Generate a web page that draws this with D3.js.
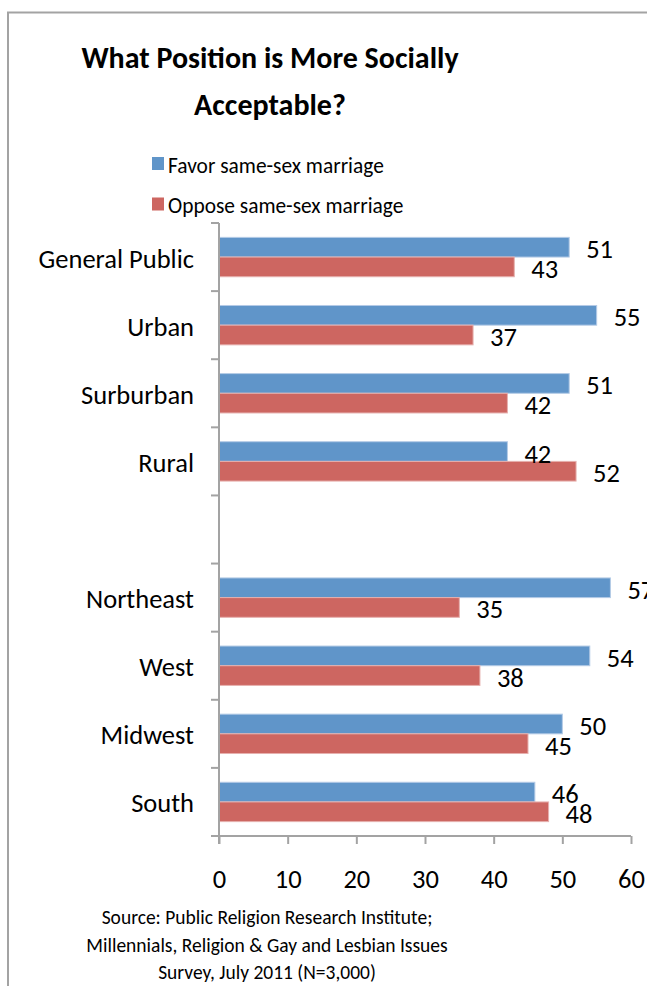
<!DOCTYPE html>
<html>
<head>
<meta charset="utf-8">
<script src="https://cdn.jsdelivr.net/npm/d3@7"></script>
<style>
  html, body { margin: 0; padding: 0; background: #fff; overflow: hidden; }
  svg { display: block; font-family: Carlito, Calibri, Lato, "Open Sans", sans-serif; }
</style>
</head>
<body>
<svg id="chart" width="647" height="986"></svg>
<script>
// Rows top to bottom; an empty name leaves a blank row between the two groups.
const categories = ["General Public", "Urban", "Surburban", "Rural", "", "Northeast", "West", "Midwest", "South"];
const favor  = [51, 55, 51, 42, null, 57, 54, 50, 46];
const oppose = [43, 37, 42, 52, null, 35, 38, 45, 48];
const seriesNames = ["Favor same-sex marriage", "Oppose same-sex marriage"];
const xTicks = [0, 10, 20, 30, 40, 50, 60];
const titleLines = ["What Position is More Socially", "Acceptable?"];
const sourceLines = [
  "Source: Public Religion Research Institute;",
  "Millennials, Religion & Gay and Lesbian Issues",
  "Survey, July 2011 (N=3,000)"
];

const colors = { favor: "#6095c9", oppose: "#cd6661" };
const outlines = { favor: "#b4cbe6", oppose: "#e6b0ae" };
const axisColor = "#a3a3a3";
const labelSize = 26.5;

const svg = d3.select("#chart");

// Chart frame (runs off the right and bottom edges)
svg.append("path")
  .attr("d", "M8,986V12.5H647")
  .attr("fill", "none").attr("stroke", axisColor).attr("stroke-width", 2);

// Title
svg.append("g").selectAll("text").data(titleLines).join("text")
  .attr("x", 270).attr("y", (d, i) => 68 + i * 47)
  .attr("text-anchor", "middle")
  .attr("font-size", 30).attr("font-weight", "bold").attr("fill", "#000")
  .text(d => d);

// Legend
const legend = svg.append("g");
const keys = ["favor", "oppose"];
keys.forEach((k, i) => {
  legend.append("rect")
    .attr("x", 152).attr("y", 157 + i * 40.5)
    .attr("width", 12).attr("height", 13)
    .attr("fill", colors[k]);
  legend.append("text")
    .attr("x", 168).attr("y", 173 + i * 40)
    .attr("font-size", 21.4).attr("fill", "#000")
    .text(seriesNames[i]);
});

// Scales
const x = d3.scaleLinear().domain([0, 60]).range([219, 631]);
const y = d3.scaleBand().domain(d3.range(categories.length)).range([223, 836]).padding(0);

const rows = categories.map((c, i) => ({ i, name: c, favor: favor[i], oppose: oppose[i] }))
  .filter(r => r.favor !== null);

// Each row holds two stacked bars filling ~58% of the row height
const groupH = y.bandwidth() * 0.578;
const barH = groupH / 2;
const off = (y.bandwidth() - groupH) / 2;

// Bars
const barG = svg.append("g");
keys.forEach((k, s) => {
  barG.selectAll("rect." + k).data(rows).join("rect")
    .attr("class", k)
    .attr("x", x(0))
    .attr("y", d => y(d.i) + off + s * barH)
    .attr("width", d => x(d[k]) - x(0))
    .attr("height", barH)
    .attr("fill", colors[k])
    .attr("stroke", outlines[k]).attr("stroke-width", 1);
});

// Value labels
keys.forEach((k, s) => {
  svg.append("g").selectAll("text").data(rows).join("text")
    .attr("x", d => x(d[k]) + 17)
    .attr("y", d => y(d.i) + off + s * barH + barH / 2 + 11)
    .attr("font-size", labelSize).attr("fill", "#000")
    .text(d => d[k]);
});

// Y axis: line with ticks at row boundaries
const yAxis = svg.append("g");
yAxis.append("line")
  .attr("x1", x(0)).attr("x2", x(0))
  .attr("y1", y.range()[0]).attr("y2", y.range()[1] + 8)
  .attr("stroke", axisColor).attr("stroke-width", 2);
yAxis.selectAll("line.tick").data(d3.range(categories.length + 1)).join("line")
  .attr("class", "tick")
  .attr("x1", x(0) - 8).attr("x2", x(0))
  .attr("y1", d => y.range()[0] + d * y.step())
  .attr("y2", d => y.range()[0] + d * y.step())
  .attr("stroke", axisColor).attr("stroke-width", 2);

// Category labels
svg.append("g").selectAll("text").data(rows).join("text")
  .attr("x", 194)
  .attr("y", d => y(d.i) + y.bandwidth() / 2 + 10.5)
  .attr("text-anchor", "end")
  .attr("font-size", labelSize).attr("fill", "#000")
  .text(d => d.name);

// X axis
const xAxis = svg.append("g").attr("transform", "translate(0,836)")
  .call(d3.axisBottom(x).tickValues(xTicks).tickSize(8).tickPadding(25.5).tickFormat(d3.format("d")));
xAxis.select(".domain").attr("stroke", axisColor).attr("stroke-width", 2)
  .attr("d", `M${x(0) - 8},0H${x(60)}`);
xAxis.selectAll(".tick line").attr("stroke", axisColor).attr("stroke-width", 2);
xAxis.selectAll(".tick text")
  .attr("font-size", labelSize).attr("fill", "#000");
xAxis.attr("font-family", null).attr("font-size", null);

// Source note
svg.append("g").selectAll("text").data(sourceLines).join("text")
  .attr("x", 267).attr("y", (d, i) => 924 + i * 27.5)
  .attr("text-anchor", "middle")
  .attr("font-size", 19.5).attr("fill", "#000")
  .text(d => d);
</script>
</body>
</html>
